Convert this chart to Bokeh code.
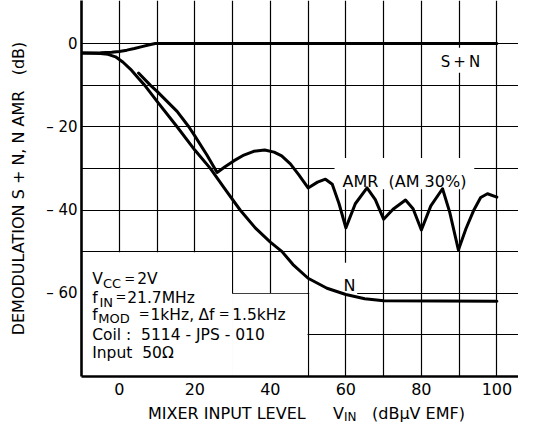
from bokeh.plotting import figure
from bokeh.models import Range1d, FixedTicker, Label, Div
from bokeh.layouts import column
from bokeh.embed import file_html
from bokeh.resources import INLINE

# ---- data ----
sn_x = [-10, -5, -2, 0, 2, 4, 6, 8, 9.5, 100]
sn_y = [-2.3, -2.25, -2.1, -1.9, -1.6, -1.2, -0.75, -0.3, 0, 0]

n_x = [-10, -5, -3, -1, 1, 3, 5, 6.7, 10, 15.3, 20, 24.1, 28, 32, 36, 40, 43.1, 46, 50, 55, 60, 65, 70, 100]
n_y = [-2.3, -2.4, -2.6, -3.2, -4.5, -6.2, -8.3, -10, -13.9, -20, -25.6, -30, -35, -40, -44.3, -47.7, -50, -53.1, -56.4, -58.8, -60.3, -61.3, -61.8, -61.9]

amr_x = [5.1, 8.2, 10, 15.3, 18.4, 20, 23.2, 25.9, 28, 30.3, 33, 35.6, 38.5, 41, 43, 45.3, 47.5, 50,
         52.5, 54.6, 56.4, 58.2, 60, 62.5, 65.6, 67.8, 70, 72.5, 75.8, 77.8, 80, 82.5, 85.6, 87.5, 89.8,
         91.8, 93.8, 95.7, 97.5, 100]
amr_y = [-7.1, -10, -11.5, -16.3, -20, -22.2, -26.8, -31, -29.6, -28.2, -26.8, -25.9, -25.6, -26.1, -27, -28.9, -31.5, -34.7,
         -33.3, -32.6, -33.8, -38.5, -44.3, -38.5, -34.7, -37.5, -42.2, -39.8, -37.6, -39.7, -44.8, -39, -34.9, -40.5, -49.6,
         -44.5, -40.2, -37, -36.1, -36.9]

x_ticks = [0, 20, 40, 60, 80, 100]
y_ticks = [0, -20, -40, -60]
y_tick_labels = ["0", "\u2013 20", "\u2013 40", "\u2013 60"]
x_grid = [0, 10, 20, 30, 40, 50, 60, 70, 80, 90, 100]
y_grid = [0, -10, -20, -30, -40, -50, -60, -70]

FONT = "DejaVu Sans"

# pixel -> data helpers (for text placement only)
def dx(px):
    return (px - 118.8) / 3.776

def dy(py):
    return (43 - py) / 4.1625

p = figure(width=518, height=405, output_backend="svg", toolbar_location=None,
           x_range=Range1d(dx(81), dx(518)), y_range=Range1d(-80, dy(0)),
           min_border=0, min_border_left=81, min_border_bottom=29,
           min_border_top=0, min_border_right=0, outline_line_color=None)
p.background_fill_color = "white"
p.border_fill_color = "white"

# grid
p.xgrid.ticker = FixedTicker(ticks=x_grid)
p.ygrid.ticker = FixedTicker(ticks=y_grid)
for g in (p.xgrid, p.ygrid):
    g.grid_line_color = "black"
    g.grid_line_width = 1.2
    g.grid_line_alpha = 1.0

# axes
for ax in (p.xaxis, p.yaxis):
    ax.axis_line_color = "black"
    ax.axis_line_width = 2.6
    ax.major_tick_line_color = None
    ax.minor_tick_line_color = None
    ax.major_tick_out = 0
    ax.major_tick_in = 0
    ax.minor_tick_out = 0
    ax.minor_tick_in = 0
    ax.major_label_text_font = FONT
    ax.major_label_text_color = "black"
p.xaxis.ticker = FixedTicker(ticks=x_ticks)
p.xaxis.major_label_text_font_size = "16px"
p.xaxis.major_label_standoff = 6
p.yaxis.ticker = FixedTicker(ticks=y_ticks)
p.yaxis.major_label_overrides = {t: l for t, l in zip(y_ticks, y_tick_labels)}
p.yaxis.major_label_text_font_size = "15px"
p.yaxis.major_label_standoff = 4
p.yaxis.axis_label = "DEMODULATION S + N, N AMR\u00a0\u00a0\u00a0(dB)"
p.yaxis.axis_label_text_font = FONT
p.yaxis.axis_label_text_font_size = "16px"
p.yaxis.axis_label_text_font_style = "normal"
p.yaxis.axis_label_text_color = "black"
p.yaxis.axis_label_standoff = 15

# white areas (text box and label backgrounds)
p.quad(left=[-10, 29.85, 85, 57, 50.3], right=[29.85, 49.85, 96, 94, 63],
       bottom=[-80, -80, -7, -35, -60.3], top=[-50.15, -60.15, -1, -27.5, -52.7],
       fill_color="white", line_color=None)

# curves
for xs, ys in ((sn_x, sn_y), (n_x, n_y), (amr_x, amr_y)):
    p.line(xs, ys, line_width=3, line_color="black", line_join="round", line_cap="round")

def lab(text, px, py, size="16px", align="left"):
    p.add_layout(Label(x=dx(px), y=dy(py), text=text, text_font=FONT, text_font_size=size,
                       text_color="black", text_align=align, text_baseline="alphabetic"))

# curve labels
lab("S\u2009+\u2009N", 460, 61.7, "15px", "center")
lab("AMR\u00a0\u00a0(AM 30%)", 342, 180.7, "16px")
lab("N", 343, 285, "16px")

# condition text box
lab("V", 91.7, 278.7, "15.5px")
lab("CC", 102.5, 283, "13px")
lab("=", 129.3, 277.7, "13px", "center")
lab("2V", 136.7, 278.7, "15.5px")
lab("f", 91.7, 297.3, "15.5px")
lab("IN", 99, 301.5, "13px")
lab("=", 120.5, 296.3, "13px", "center")
lab("21.7MHz", 126.7, 297.3, "15.5px")
lab("f", 91.7, 314, "15.5px")
lab("MOD", 97.7, 318, "13px")
lab("=", 143.7, 313, "13px", "center")
lab("1kHz,", 150, 314, "15.5px")
lab("\u0394f", 198, 314, "15.5px")
lab("=", 223.8, 313, "13px", "center")
lab("1.5kHz", 231.7, 314, "15.5px")
lab("Coil :\u00a0 5114 - JPS - 010", 91.7, 334, "15.5px")
lab("Input\u00a0 50\u03a9", 91.7, 352.3, "15.5px")

# x axis title (with subscript) below the plot
xt = Div(width=518, height=19, margin=0, text=(
    '<div style="position:relative;width:518px;height:19px;font-family:\'DejaVu Sans\';'
    'font-size:16px;line-height:19px;color:#000;white-space:nowrap;">'
    '<span style="position:absolute;left:148px;top:-1px;">MIXER INPUT LEVEL</span>'
    '<span style="position:absolute;left:333px;top:-1px;">V</span>'
    '<span style="position:absolute;left:344px;top:3px;font-size:12px;">IN</span>'
    '<span style="position:absolute;left:372px;top:-1px;">(dB\u03bcV EMF)</span>'
    '</div>'))

layout = column(p, xt, spacing=0)
open("out.html", "w").write(file_html(layout, INLINE))
